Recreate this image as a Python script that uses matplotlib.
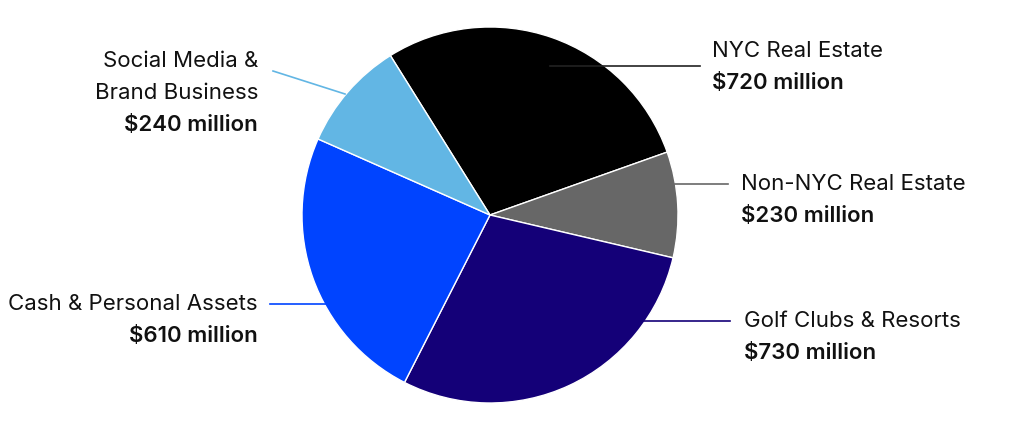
import matplotlib
matplotlib.use("Agg")
import matplotlib.pyplot as plt

categories = ["NYC Real Estate", "Non-NYC Real Estate", "Golf Clubs & Resorts",
              "Cash & Personal Assets", "Social Media &\nBrand Business"]
values = [720, 230, 730, 610, 240]
value_labels = ["$720 million", "$230 million", "$730 million", "$610 million", "$240 million"]
colors = ["#000000", "#676767", "#140078", "#0044ff", "#62b6e4"]
line_colors = ["#222222", "#676767", "#140078", "#0044ff", "#62b6e4"]

W, H = 1014, 431
fig = plt.figure(figsize=(W / 100, H / 100), dpi=100)
ax = fig.add_axes([0, 0, 1, 1])

cx, cy, r = 490, H - 216, 188
ax.pie(values, colors=colors, startangle=122, counterclock=False,
       center=(cx, cy), radius=r, frame=True,
       wedgeprops=dict(edgecolor="white", linewidth=1.0))
ax.set_xlim(0, W)
ax.set_ylim(0, H)
ax.set_aspect("equal")
ax.axis("off")

font = ["Inter", "DejaVu Sans"]
fs = 16

# leader lines (pixel coords, y from top)
leaders = [
    ((550, 67), (700, 67)),
    ((675, 185), (728, 185)),
    ((640, 322), (730, 322)),
    ((270, 305), (330, 305)),
    ((273, 72), (345, 95)),
]
for (p0, p1), lc in zip(leaders, line_colors):
    ax.plot([p0[0], p1[0]], [H - p0[1], H - p1[1]], color=lc, lw=1.2, zorder=5)

# text anchors: (x, y of first line, ha)
anchors = [
    (712, 51, "left"),
    (741, 184, "left"),
    (744, 321, "left"),
    (258, 304, "right"),
    (258, 61, "right"),
]
step = 32
for cat, vl, (x, y, ha) in zip(categories, value_labels, anchors):
    lines = cat.split("\n")
    for i, ln in enumerate(lines):
        ax.text(x, H - (y + i * step), ln, ha=ha, va="center", fontsize=fs,
                family=font, color="#111111")
    ax.text(x, H - (y + len(lines) * step), vl, ha=ha, va="center", fontsize=fs,
            family=font, fontweight="semibold", color="#111111")

fig.savefig("out.png", dpi=100)
